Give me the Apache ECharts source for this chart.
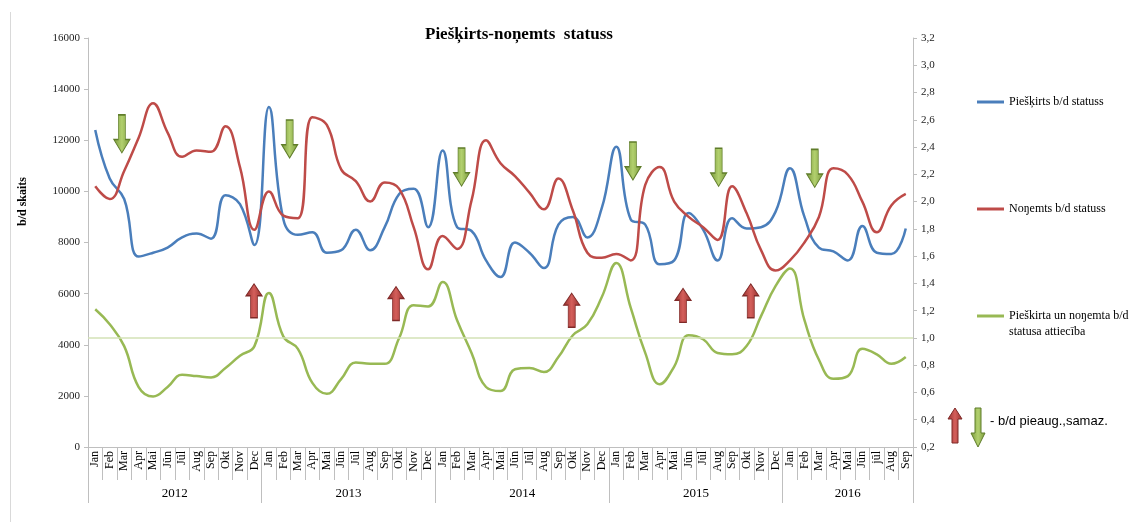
<!DOCTYPE html>
<html>
<head>
<meta charset="utf-8">
<title>Piešķirts-noņemts statuss</title>
<script src="https://cdn.jsdelivr.net/npm/echarts@6/dist/echarts.min.js"></script>
<style>
  html, body { margin: 0; padding: 0; background: #fff; }
  #main { width: 1136px; height: 522px; }
</style>
</head>
<body>
<div id="main"></div>
<script>
// mēneši 2012 - 2016
var months = [
  'Jan','Feb','Mar','Apr','Mai','Jūn','Jūl','Aug','Sep','Okt','Nov','Dec',
  'Jan','Feb','Mar','Apr','Mai','Jūn','Jūl','Aug','Sep','Okt','Nov','Dec',
  'Jan','Feb','Mar','Apr','Mai','Jūn','Jūl','Aug','Sep','Okt','Nov','Dec',
  'Jan','Feb','Mar','Apr','Mai','Jūn','Jūl','Aug','Sep','Okt','Nov','Dec',
  'Jan','Feb','Mar','Apr','Mai','Jūn','jūl','Aug','Sep'
]
var years = ['2012','2013','2014','2015','2016']
var monthsPerYear = [12,12,12,12,9]

var pieskirts = [
  12400,10500,9700,7450,7600,7800,8200,8350,8150,9850,9500,7900,
  13300,8900,8300,8400,7600,7700,8500,7700,8600,9900,10100,8600,
  11600,8600,8450,7300,6650,8000,7600,7000,8700,9000,8200,9350,
  11750,8900,8700,7150,7300,9150,8500,7300,8950,8550,8600,9200,
  10900,9000,7800,7650,7300,8650,7600,7550,8550
]
var nonemts = [
  10200,9700,10800,12100,13450,12300,11350,11600,11550,12550,10950,8500,
  10000,9050,8950,12900,12600,10850,10400,9600,10350,10100,8600,6950,
  8250,7750,9650,12000,11100,10600,9950,9300,10500,9250,7600,7400,
  7550,7300,10250,10950,9600,9000,8600,8100,10200,9150,7700,6900,
  7300,8000,9000,10900,10650,9600,8400,9450,9900
]
var attieciba = [
  1.21,1.10,0.94,0.64,0.57,0.64,0.73,0.72,0.71,0.78,0.87,0.94,
  1.33,1.01,0.92,0.67,0.59,0.70,0.82,0.81,0.81,1.00,1.24,1.23,
  1.41,1.13,0.89,0.64,0.61,0.77,0.78,0.75,0.86,1.02,1.10,1.30,
  1.55,1.22,0.89,0.66,0.79,1.02,0.99,0.89,0.88,0.94,1.16,1.38,
  1.51,1.13,0.84,0.70,0.72,0.92,0.88,0.81,0.86
]
// bultas: [mēnesis no sākuma, b/d skaits]
var upArrows = [[11.47,5720],[21.28,5610],[33.42,5350],[41.11,5540],[45.79,5720]]
var downArrows = [[2.34,12250],[13.93,12050],[25.81,10950],[37.65,11190],[43.57,10940],[50.21,10900]]
var leftTicks = { min: 0, max: 16000, step: 2000 }
var rightTicks = { min: 0.2, max: 3.2, step: 0.2 }
var baseLine = 1.0

// gadu ass: pusmēnešu punkti, lai gads būtu tieši vidū
var yearSlots = []
var yearTickIdx = [0]
var yearLabelIdx = {}
var pos = 0
monthsPerYear.forEach(function (n, i) {
  yearLabelIdx[pos + n] = years[i]
  pos += n * 2
  yearTickIdx.push(pos)
})
for (var k = 0; k <= pos; k++) yearSlots.push(yearLabelIdx[k] || '')

var serif = 'Liberation Serif'
var blue = '#4a7ebb', red = '#be4b48', green = '#98b954'

function arrowGrad(dark, light) {
  return new echarts.graphic.LinearGradient(0, 0, 1, 0, [
    { offset: 0, color: dark },
    { offset: 0.5, color: light },
    { offset: 1, color: dark }
  ])
}
var upPath = 'path://M5,0 L10,7 L7.2,7 L7.2,20 L2.8,20 L2.8,7 L0,7 Z'
var downPath = 'path://M2.8,0 L7.2,0 L7.2,13 L10,13 L5,20 L0,13 L2.8,13 Z'

var legendText = { fontFamily: serif, fontSize: 12, color: '#000', lineHeight: 16 }

var myChart = echarts.init(document.getElementById('main'))
var option = {
  backgroundColor: '#fff',
  animation: false,
  title: {
    text: 'Piešķirts-noņemts  statuss',
    left: 420,
    top: 21,
    textStyle: { fontFamily: serif, fontSize: 17, fontWeight: 'bold', color: '#000' }
  },
  legend: [
    {
      data: ['Piešķirts b/d statuss'],
      left: 977, top: 94, padding: 0,
      icon: 'rect', itemWidth: 27, itemHeight: 3, itemGap: 0,
      textStyle: legendText
    },
    {
      data: ['Noŋemts b/d statuss'],
      left: 977, top: 201, padding: 0,
      icon: 'rect', itemWidth: 27, itemHeight: 3, itemGap: 0,
      textStyle: legendText
    },
    {
      // tukšā rinda augšā, lai līnija būtu pretī pirmajai rindai
      data: ['Pieškirta un noŋemta b/d\nstatusa attiecība'],
      left: 977, top: 292, padding: 0,
      icon: 'rect', itemWidth: 27, itemHeight: 3, itemGap: 0,
      formatter: function (name) { return ' \n' + name },
      textStyle: legendText
    }
  ],
  grid: { left: 88, right: 223, top: 38, bottom: 75, containLabel: false },
  xAxis: [
    {
      type: 'category',
      data: months,
      boundaryGap: true,
      axisLine: { lineStyle: { color: '#bfbfbf', width: 1 } },
      axisTick: { show: true, alignWithLabel: false, interval: 0, length: 33, lineStyle: { color: '#bfbfbf' } },
      axisLabel: { interval: 0, rotate: 90, margin: 4, fontFamily: serif, fontSize: 12, color: '#000' },
      splitLine: { show: false }
    },
    {
      type: 'category',
      data: yearSlots,
      position: 'bottom',
      boundaryGap: false,
      axisLine: { show: false },
      axisTick: {
        show: true, length: 56, lineStyle: { color: '#bfbfbf' },
        interval: function (idx) { return yearTickIdx.indexOf(idx) >= 0 }
      },
      axisLabel: {
        margin: 40, fontFamily: serif, fontSize: 13, color: '#000',
        interval: function (idx, val) { return val !== '' }
      },
      splitLine: { show: false }
    },
    {
      // palīgass bultu novietošanai
      type: 'value', min: 0, max: months.length, show: false
    }
  ],
  yAxis: [
    {
      type: 'value',
      min: leftTicks.min, max: leftTicks.max, interval: leftTicks.step,
      name: 'b/d skaits',
      nameLocation: 'middle',
      nameGap: 59,
      nameTextStyle: { fontFamily: serif, fontSize: 12, fontWeight: 'bold', color: '#000', padding: [0, 0, 0, 82] },
      axisLine: { show: true, lineStyle: { color: '#bfbfbf' } },
      axisTick: { show: true, length: 4, lineStyle: { color: '#bfbfbf' } },
      axisLabel: {
        fontFamily: serif, fontSize: 11, color: '#222', margin: 8,
        formatter: function (v) { return String(v) }
      },
      splitLine: { show: false }
    },
    {
      type: 'value',
      min: rightTicks.min, max: rightTicks.max, interval: rightTicks.step,
      position: 'right',
      axisLine: { show: true, lineStyle: { color: '#bfbfbf' } },
      axisTick: { show: true, length: 4, lineStyle: { color: '#bfbfbf' } },
      axisLabel: {
        fontFamily: serif, fontSize: 11, color: '#222', margin: 8,
        formatter: function (v) { return v.toFixed(1).replace('.', ',') }
      },
      splitLine: { show: false }
    }
  ],
  series: [
    {
      name: 'Piešķirts b/d statuss',
      type: 'line',
      data: pieskirts,
      smooth: 0.45,
      showSymbol: false,
      color: blue,
      lineStyle: { width: 2.5, color: blue }
    },
    {
      name: 'Noŋemts b/d statuss',
      type: 'line',
      data: nonemts,
      smooth: 0.45,
      showSymbol: false,
      color: red,
      lineStyle: { width: 2.5, color: red }
    },
    {
      name: 'Pieškirta un noŋemta b/d\nstatusa attiecība',
      type: 'line',
      yAxisIndex: 1,
      data: attieciba,
      smooth: 0.45,
      showSymbol: false,
      color: green,
      lineStyle: { width: 2.5, color: green },
      markLine: {
        silent: true,
        symbol: 'none',
        label: { show: false },
        lineStyle: { color: '#d3e2b6', width: 1.5, type: 'solid' },
        data: [{ yAxis: baseLine }]
      }
    },
    {
      type: 'scatter',
      xAxisIndex: 2,
      data: upArrows,
      symbol: upPath,
      symbolSize: [16, 34],
      itemStyle: { color: arrowGrad('#97302e', '#d45f5b'), borderColor: '#7f2a28', borderWidth: 1, opacity: 1 },
      z: 5
    },
    {
      type: 'scatter',
      xAxisIndex: 2,
      data: downArrows,
      symbol: downPath,
      symbolSize: [16, 38],
      itemStyle: { color: arrowGrad('#79993a', '#b2d06e'), borderColor: '#5f7c2a', borderWidth: 1, opacity: 1 },
      z: 5
    }
  ],
  graphic: [
    {
      type: 'line', silent: true,
      shape: { x1: 10.5, y1: 12, x2: 10.5, y2: 522 },
      style: { stroke: '#d9d9d9', lineWidth: 1 }
    },
    {
      type: 'polygon', silent: true,
      shape: { points: [[955, 408], [962, 419], [958, 419], [958, 443], [952, 443], [952, 419], [948, 419]] },
      style: { fill: arrowGrad('#97302e', '#d45f5b'), stroke: '#7f2a28', lineWidth: 1 }
    },
    {
      type: 'polygon', silent: true,
      shape: { points: [[975, 408], [981, 408], [981, 433], [985, 433], [978, 447], [971, 433], [975, 433]] },
      style: { fill: arrowGrad('#79993a', '#b2d06e'), stroke: '#5f7c2a', lineWidth: 1 }
    },
    {
      type: 'text', silent: true,
      left: 990, top: 415,
      style: { text: '- b/d pieaug.,samaz.', fontFamily: 'Liberation Sans', fontSize: 13, fill: '#000' }
    }
  ]
}
myChart.setOption(option)
</script>
</body>
</html>
